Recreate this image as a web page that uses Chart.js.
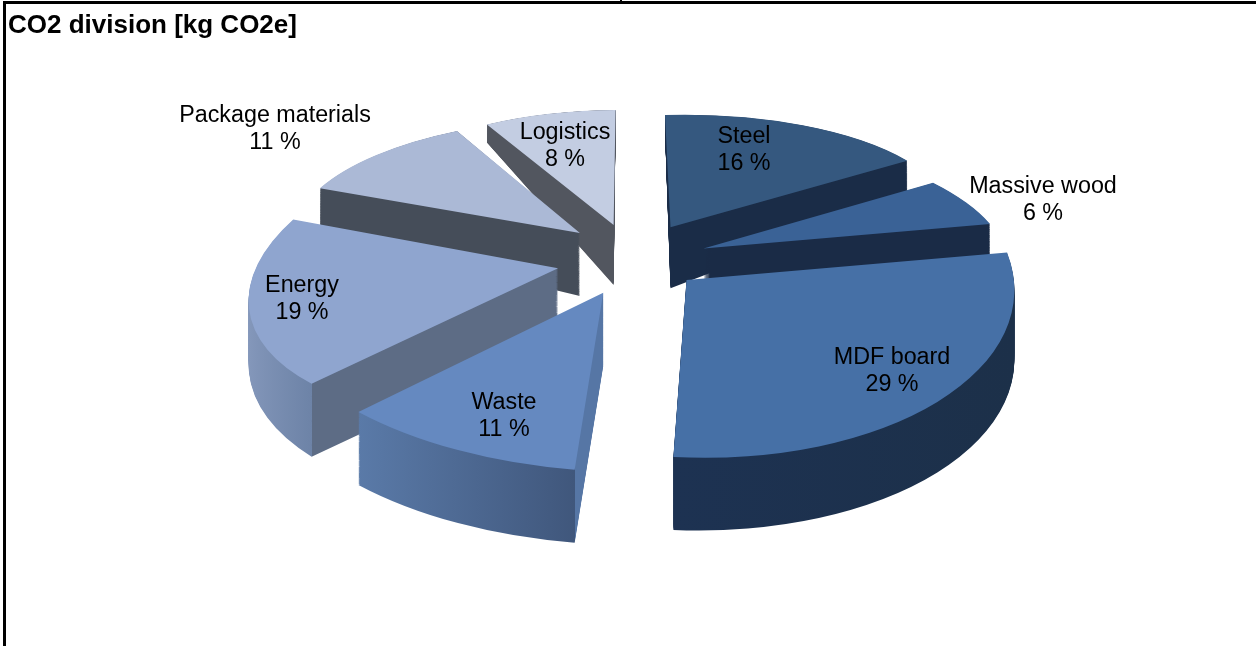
<!DOCTYPE html>
<html>
<head>
<meta charset="utf-8">
<title>CO2 division</title>
<script src="https://cdn.jsdelivr.net/npm/chart.js@4/dist/chart.umd.min.js"></script>
<style>
  html, body { margin: 0; padding: 0; background: #fff; overflow: hidden; }
  #wrap { position: relative; width: 1256px; height: 646px; }
  #chart { position: absolute; left: 0; top: 0; }
  .rule { position: absolute; background: #000; }
</style>
</head>
<body>
<div id="wrap">
  <div class="rule" style="left:3px;top:1px;width:1253px;height:3px"></div>
  <div class="rule" style="left:3px;top:1px;width:3px;height:645px"></div>
  <div class="rule" style="left:620px;top:0;width:2px;height:3px"></div>
  <canvas id="chart" width="1256" height="646"></canvas>
</div>
<script>
const categories = ["Steel", "Massive wood", "MDF board", "Waste", "Energy", "Package materials", "Logistics"];
const shares = [16, 6, 29, 11, 19, 11, 8];
const topColors = ["#35587f", "#3a6296", "#4670a6", "#6589c0", "#8fa5cf", "#abb9d6", "#c3cde2"];
const sideColors = [
    ["#1a2c47", "#1a2c47"], ["#1a2b46", "#1a2b46"], ["#1d3252", "#1c3049"], ["#5a7aa8", "#40577c"],
    ["#8699bc", "#6d83a7"], ["#454d59", "#454d59"], ["#52565f", "#52565f"]
];
// colour of the cut face next to the first edge, only where it can be seen
const cutColors = [null, null, null, "#5676a5", "#5d6c85", null, null];
// how far each slice is pulled out of the pie, and how much of the radius it keeps
const explodeX = [44, 76, 57, -24, -70, -50, -15];
const explodeY = [-80, -30, 39, 66, 14, -67, -86];
const sliceReach = [0.96, 0.91, 0.985, 0.97, 0.99, 1, 1];
// label centres
const labelSpots = [[744, 151], [1043, 201], [892, 372], [504, 417], [302, 300], [275, 130], [565, 147]];

const centerX = 628, centerY = 262;
const squash = 0.45, perspective = 0.0005, perspectiveX = 0.00011;

function project(u, v, t) {
    const s = 1 / (1 - perspective * v - perspectiveX * u);
    const depth = 73 + 0.15 * Math.min(0, v);
    return [centerX + u * s, centerY + squash * v * s + depth * t];
}

// affine matrix taking the drawn arc onto its exploded, tilted place
function sliceMatrix(p, plane, t) {
    const q = plane.map(pt => project(pt[0], pt[1], t));
    const d1x = p[1][0] - p[0][0], d1y = p[1][1] - p[0][1];
    const d2x = p[2][0] - p[0][0], d2y = p[2][1] - p[0][1];
    const e1x = q[1][0] - q[0][0], e1y = q[1][1] - q[0][1];
    const e2x = q[2][0] - q[0][0], e2y = q[2][1] - q[0][1];
    const det = d1x * d2y - d2x * d1y;
    const a = (e1x * d2y - e2x * d1y) / det;
    const c = (e2x * d1x - e1x * d2x) / det;
    const b = (e1y * d2y - e2y * d1y) / det;
    const d = (e2y * d1x - e1y * d2x) / det;
    return [a, b, c, d, q[0][0] - a * p[0][0] - c * p[0][1], q[0][1] - b * p[0][0] - d * p[0][1]];
}

const pie3d = {
    id: "pie3d",
    beforeDatasetDraw(chart, args) {
        const ctx = chart.ctx;
        const arcs = args.meta.data.map((arc, i) => {
            const r = arc.outerRadius;
            const pts = [
                [arc.x, arc.y],
                [arc.x + Math.cos(arc.startAngle) * r, arc.y + Math.sin(arc.startAngle) * r],
                [arc.x + Math.cos(arc.endAngle) * r, arc.y + Math.sin(arc.endAngle) * r]
            ];
            const plane = pts.map(p => [
                (p[0] - arc.x) * sliceReach[i] + explodeX[i],
                (p[1] - arc.y) * sliceReach[i] + explodeY[i]
            ]);
            return { arc, i, pts, plane };
        });
        // far slices first
        arcs.sort((m, n) => explodeY[m.i] - explodeY[n.i]);
        arcs.forEach(({ arc, i, pts, plane }) => {
            const own = arc.options;
            const xs = pts.map(p => p[0]);
            if (arc.startAngle < Math.PI && arc.endAngle > Math.PI) xs.push(arc.x - arc.outerRadius);
            if (arc.startAngle < 0 && arc.endAngle > 0) xs.push(arc.x + arc.outerRadius);
            const left = Math.min(...xs), right = Math.max(...xs);
            const grad = ctx.createLinearGradient(left, 0, right, 0);
            if (cutColors[i]) {
                const corner = (pts[1][0] - left) / (right - left);
                grad.addColorStop(0, sideColors[i][0]);
                grad.addColorStop(corner, sideColors[i][1]);
                grad.addColorStop(corner, cutColors[i]);
                grad.addColorStop(1, cutColors[i]);
            } else {
                grad.addColorStop(0, sideColors[i][0]);
                grad.addColorStop(1, sideColors[i][1]);
            }
            ctx.save();
            arc.options = Object.assign({}, own, { backgroundColor: grad });
            for (let k = 70; k > 0; k--) {
                ctx.setTransform(...sliceMatrix(pts, plane, k / 70));
                arc.draw(ctx);
            }
            arc.options = own;
            ctx.setTransform(...sliceMatrix(pts, plane, 0));
            arc.draw(ctx);
            ctx.restore();
        });
        ctx.save();
        ctx.setTransform(1, 0, 0, 1, 0, 0);
        ctx.fillStyle = "#000";
        ctx.font = '23.3px "Liberation Sans"';
        ctx.textAlign = "center";
        ctx.textBaseline = "middle";
        categories.forEach((name, i) => {
            ctx.fillText(name, labelSpots[i][0], labelSpots[i][1] - 14);
            ctx.fillText(shares[i] + " %", labelSpots[i][0], labelSpots[i][1] + 13);
        });
        ctx.restore();
        return false;
    }
};

new Chart(document.getElementById("chart"), {
    type: "pie",
    data: {
        labels: categories,
        datasets: [{
            data: shares,
            backgroundColor: topColors,
            borderWidth: 0
        }]
    },
    options: {
        responsive: false,
        animation: false,
        radius: 321,
        layout: { padding: { left: 8, top: 10 } },
        plugins: {
            legend: { display: false },
            tooltip: { enabled: false },
            title: {
                display: true,
                text: "CO2 division [kg CO2e]",
                align: "start",
                color: "#000",
                font: { family: "Liberation Sans", size: 26, weight: "bold" },
                padding: 0
            }
        }
    },
    plugins: [pie3d]
});
</script>
</body>
</html>
